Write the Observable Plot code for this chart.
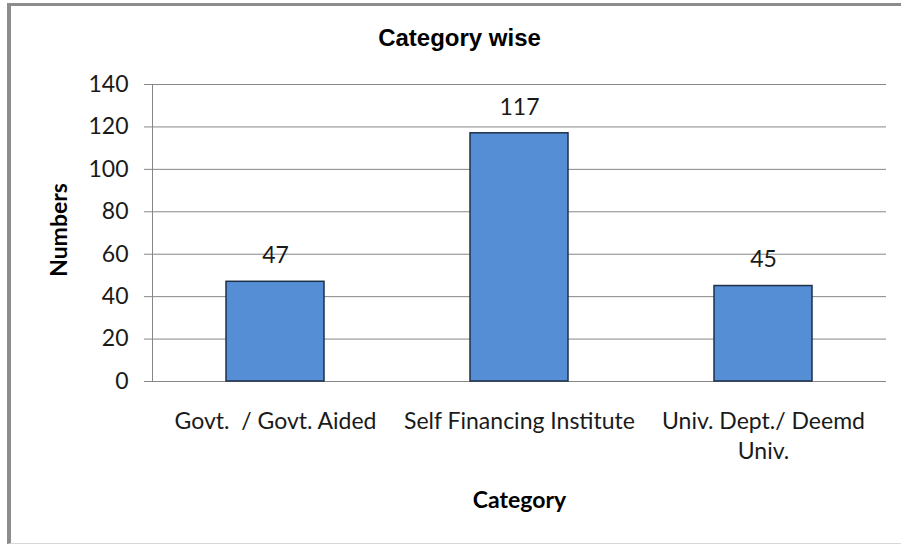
<!DOCTYPE html>
<html>
<head>
<meta charset="utf-8">
<script src="https://cdn.jsdelivr.net/npm/d3@7"></script>
<script src="https://cdn.jsdelivr.net/npm/@observablehq/plot@0.6"></script>
<style>
  html, body { margin: 0; padding: 0; background: #fff; }
  #wrap { position: relative; width: 901px; height: 546px; overflow: hidden; }
  #border { position: absolute; left: 7px; top: 3px; width: 910px; height: 541px;
    border-top: 3px solid #8c8c8c; border-left: 4px solid #8c8c8c; border-bottom: 1px solid #d8d8d8;
    box-sizing: border-box; pointer-events: none; }
  #chart { position: absolute; left: 0; top: 0; }
</style>
</head>
<body>
<div id="wrap"><div id="chart"></div><div id="border"></div></div>
<script>
const categories = ["Govt.  / Govt. Aided", "Self Financing Institute", "Univ. Dept./ Deemd Univ."];
const tickLabels = ["Govt.  / Govt. Aided", "Self Financing Institute", "Univ. Dept./ Deemd\nUniv."];
const values = [47, 117, 45];
const yTicks = [0, 20, 40, 60, 80, 100, 120, 140];
const title = "Category wise";
const xLabel = "Category";
const yLabel = "Numbers";

const data = categories.map((c, i) => ({cat: c, value: values[i]}));
const labelOf = new Map(categories.map((c, i) => [c, tickLabels[i]]));

const plot = Plot.plot({
  width: 901,
  height: 546,
  marginLeft: 152,
  marginRight: 15,
  marginTop: 84,
  marginBottom: 165,
  style: { fontFamily: "Lato, 'Noto Sans', sans-serif", fontSize: "23px", color: "#1a1a1a", background: "transparent" },
  x: { domain: categories, paddingInner: 0.6, paddingOuter: 0.3 },
  y: { domain: [0, 140] },
  marks: [
    Plot.gridY(yTicks, { stroke: "#868686", strokeOpacity: 1, strokeWidth: 1 }),
    Plot.frame({ anchor: "left", stroke: "#868686", strokeWidth: 1 }),
    Plot.axisY({ ticks: yTicks, tickSize: 8, tickPadding: 16, stroke: "#868686", label: null, fontSize: 23, fill: "#1a1a1a" }),
    Plot.axisX({ tickSize: 0, tickPadding: 27, label: null, fontSize: 23, lineHeight: 1.28, fill: "#1a1a1a",
      tickFormat: d => labelOf.get(d) }),
    Plot.barY(data, { x: "cat", y: "value", fill: "#558ed5", stroke: "#1e3148", strokeWidth: 1.5 }),
    Plot.text(data, { x: "cat", y: "value", text: d => String(d.value), dy: -26, fontSize: 23, fill: "#1a1a1a" }),
    Plot.text([yLabel], { frameAnchor: "left", textAnchor: "middle", lineAnchor: "middle", dx: -93, dy: -3, rotate: -90, fontSize: 23, fontWeight: "bold", fill: "#000" }),
    Plot.text([xLabel], { frameAnchor: "bottom", textAnchor: "middle", lineAnchor: "middle", dy: 119, fontSize: 23, fontWeight: "bold", fill: "#000" }),
    Plot.text([title], { frameAnchor: "top", textAnchor: "middle", lineAnchor: "middle", dx: -60, dy: -46, fontSize: 24, fontWeight: "bold", fill: "#000",
      fontFamily: "'Liberation Sans', Arial, sans-serif" })
  ]
});
document.getElementById("chart").appendChild(plot);
</script>
</body>
</html>
